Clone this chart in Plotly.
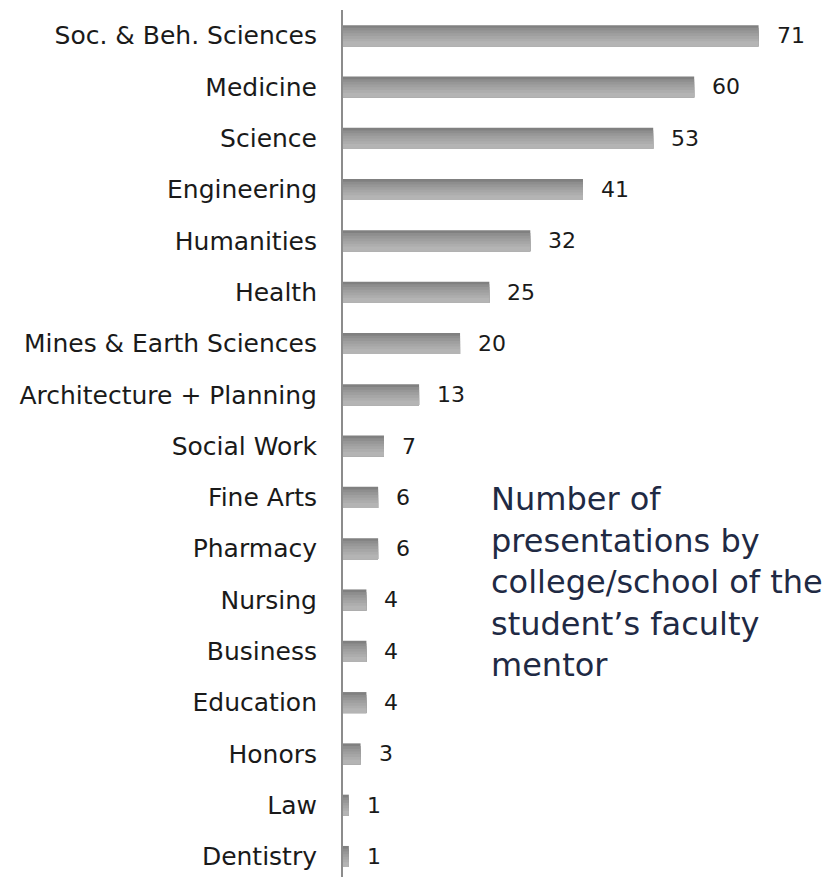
import plotly.graph_objects as go

categories = ["Soc. & Beh. Sciences", "Medicine", "Science", "Engineering", "Humanities",
              "Health", "Mines & Earth Sciences", "Architecture + Planning", "Social Work",
              "Fine Arts", "Pharmacy", "Nursing", "Business", "Education", "Honors", "Law",
              "Dentistry"]
values = [71, 60, 53, 41, 32, 25, 20, 13, 7, 6, 6, 4, 4, 4, 3, 1, 1]
title_text = "Number of<br>presentations by<br>college/school of the<br>student’s faculty<br>mentor"

FONT = "DejaVu Sans"
bar_h = 0.41
layer_colors = ["#808080", "#8e8e8e", "#979797", "#9f9f9f", "#a6a6a6", "#adadad", "#b4b4b4"]
step = bar_h / len(layer_colors) * 0.9

fig = go.Figure()
for k, col in enumerate(layer_colors):
    off = -bar_h / 2 + k * step
    w = bar_h - k * step
    fig.add_trace(go.Bar(
        x=values, y=categories, orientation="h",
        offset=off, width=w,
        marker=dict(color=col, line=dict(width=0)),
        hoverinfo="skip", showlegend=False,
    ))

annotations = []
for c, v in zip(categories, values):
    annotations.append(dict(x=v, y=c, text=str(v), showarrow=False, xanchor="left",
                            yanchor="middle", xshift=16,
                            font=dict(family=FONT, size=22, color="#1a1a1a")))
annotations.append(dict(xref="paper", yref="paper", x=(489 - 343) / 494, y=1 - (478 - 10) / 867,
                        xanchor="left", yanchor="top", align="left", text=title_text,
                        showarrow=False,
                        font=dict(family=FONT, size=32, color="#1f2a44")))

# page body has an 8px margin, so the figure is offset by 8px
fig.update_layout(
    width=829, height=869,
    margin=dict(l=335, r=0, t=2, b=0, autoexpand=False),
    paper_bgcolor="white", plot_bgcolor="white",
    barmode="overlay",
    annotations=annotations,
    xaxis=dict(range=[0, 84.4], visible=False, fixedrange=True, automargin=False),
    yaxis=dict(categoryorder="array", categoryarray=categories, range=[16.4, -0.5],
               showline=True, linecolor="#8c8c8c", linewidth=2, ticks="",
               showgrid=False, zeroline=False, ticklabelstandoff=19, automargin=False,
               tickfont=dict(family=FONT, size=25, color="#1a1a1a")),
)

fig.write_html("out.html")
